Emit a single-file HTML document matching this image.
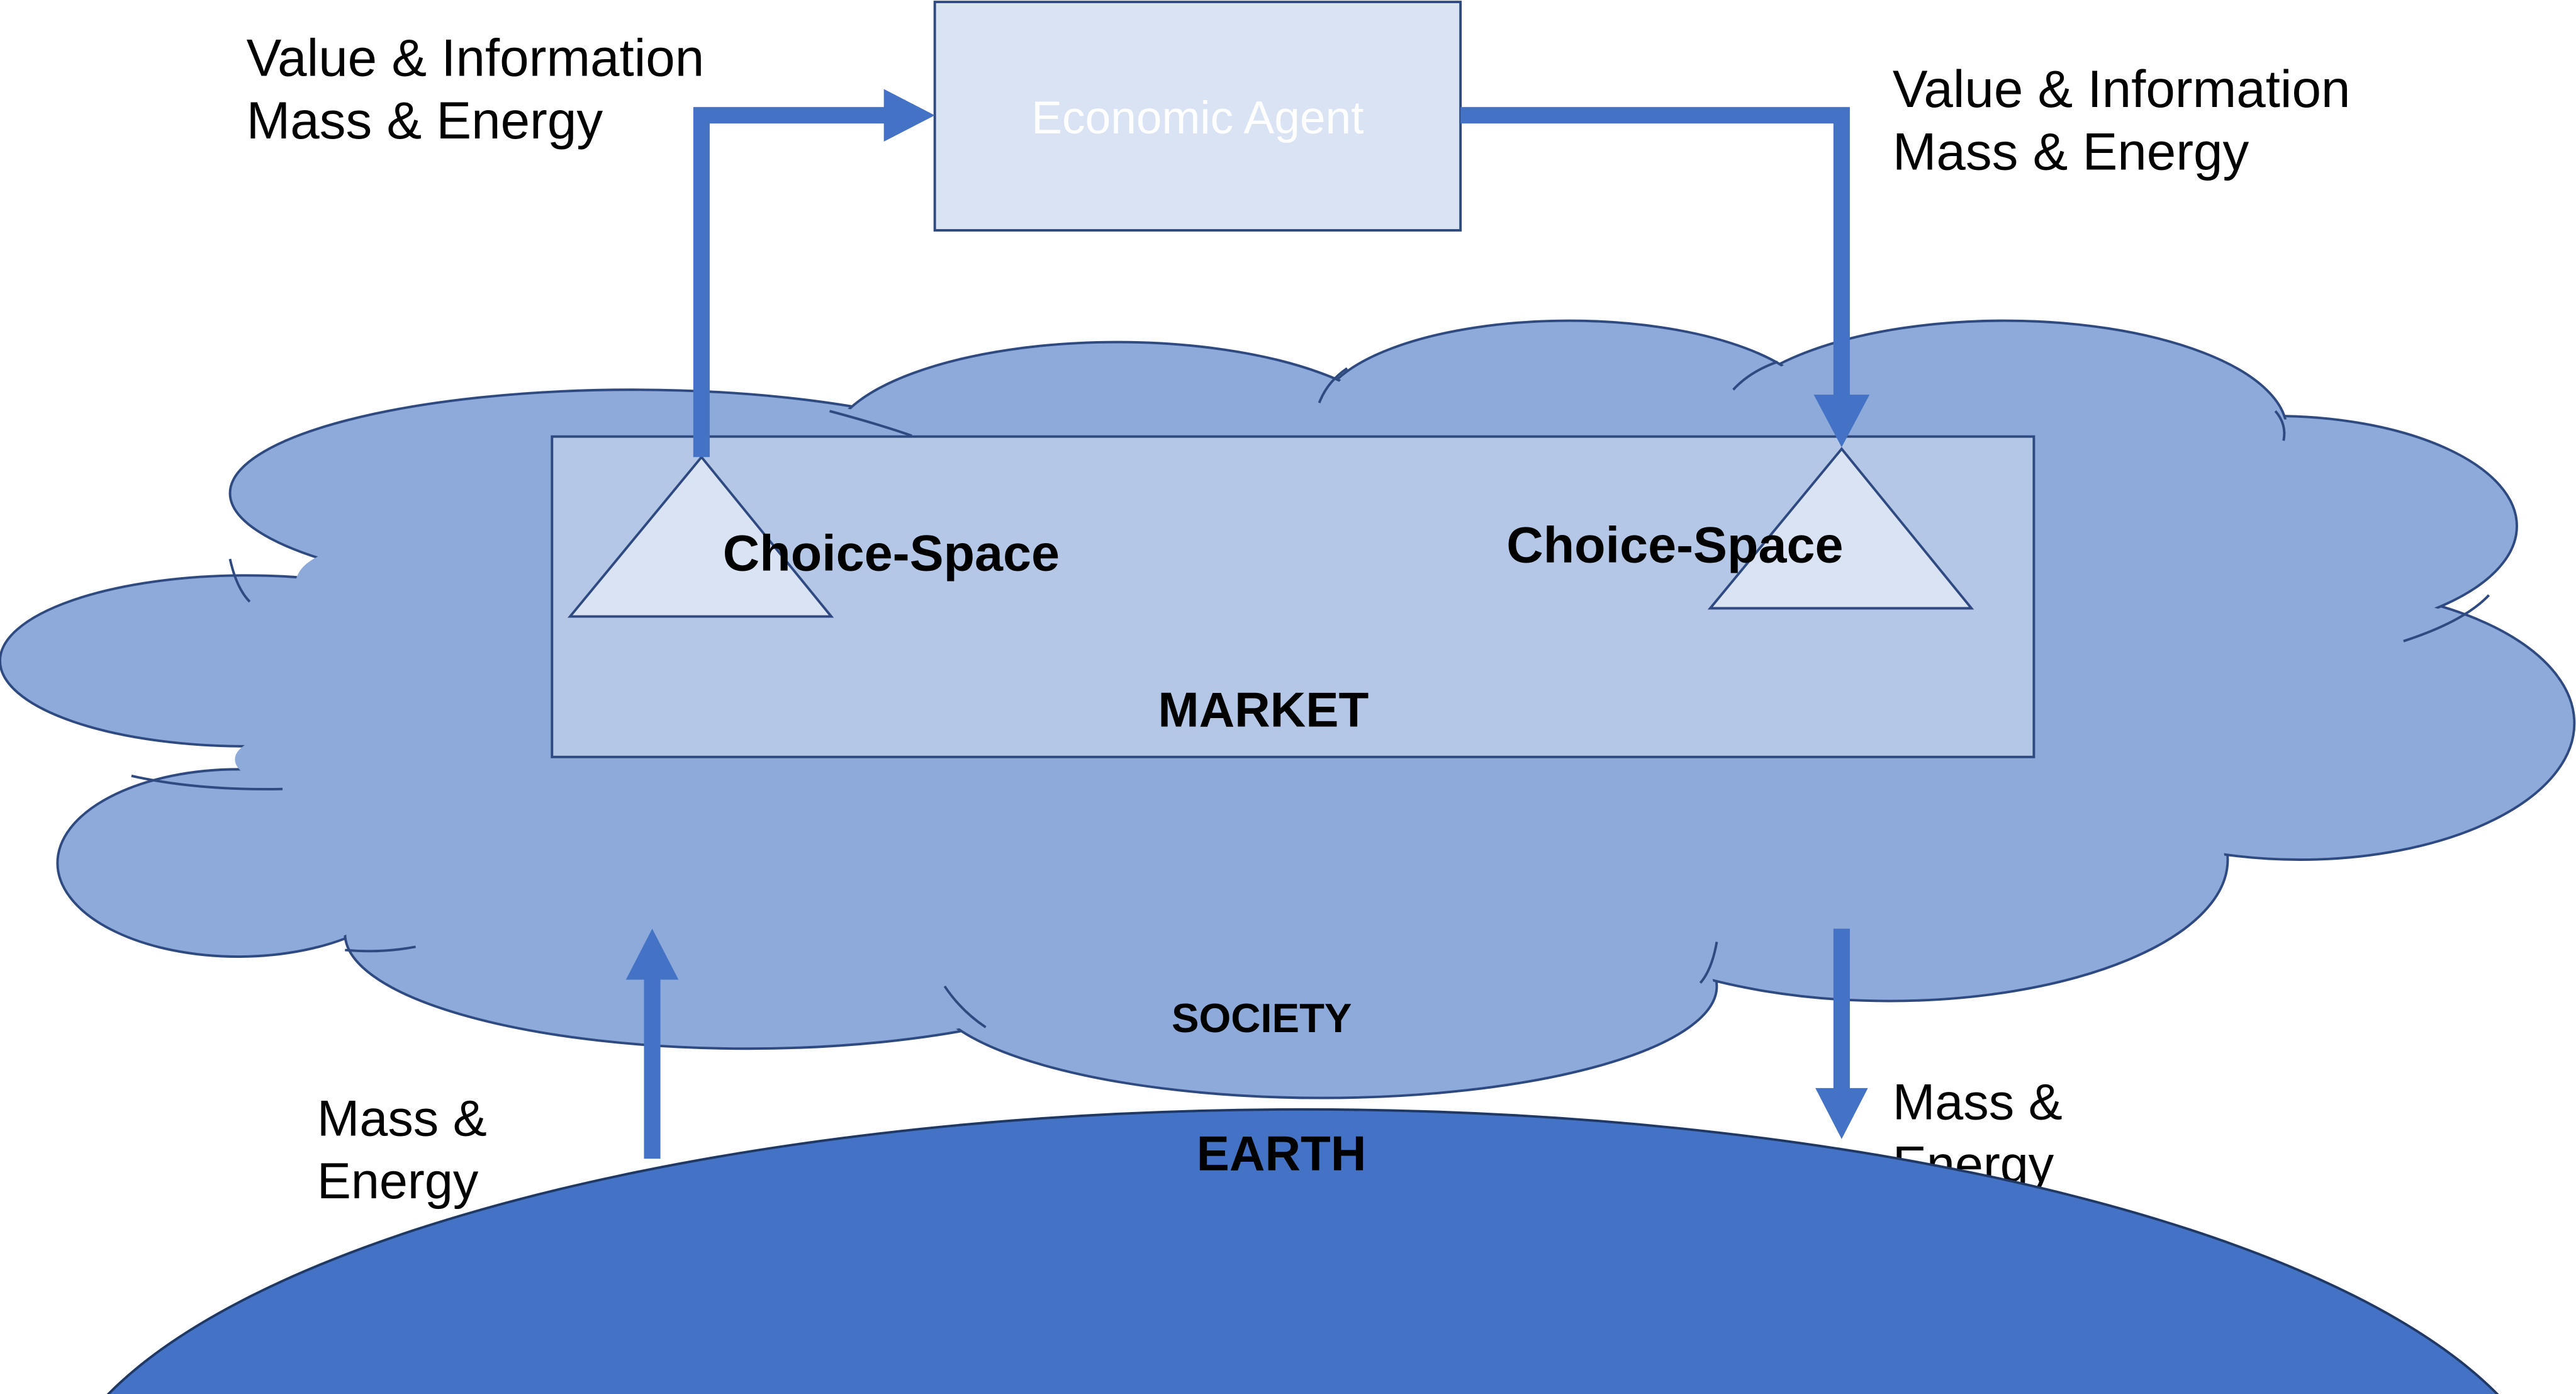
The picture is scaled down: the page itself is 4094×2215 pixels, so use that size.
<!DOCTYPE html>
<html><head><meta charset="utf-8"><style>
html,body{margin:0;padding:0;background:#fff;width:4094px;height:2215px;overflow:hidden;}
svg{display:block;}
text{font-family:"Liberation Sans",sans-serif;}
</style></head><body>
<svg width="4094" height="2215" viewBox="0 0 1568 848" xmlns="http://www.w3.org/2000/svg">
<rect width="1568" height="848" fill="#fff"/>
<g stroke="#2F4A80" stroke-width="1.5" fill="#8EAADB">
<ellipse cx="385" cy="300" rx="245" ry="63"/>
<ellipse cx="150" cy="402" rx="150" ry="52"/>
<ellipse cx="145" cy="525" rx="110" ry="57"/>
<ellipse cx="455" cy="568" rx="245" ry="70"/>
<ellipse cx="805" cy="600" rx="240" ry="68"/>
<ellipse cx="1150" cy="523" rx="206" ry="86"/>
<ellipse cx="1400" cy="440" rx="167" ry="83"/>
<ellipse cx="1385" cy="320" rx="147" ry="67"/>
<ellipse cx="1220" cy="262" rx="172" ry="67"/>
<ellipse cx="955" cy="252" rx="152" ry="57"/>
<ellipse cx="680" cy="272" rx="175" ry="64"/>
</g>
<g fill="#8EAADB">
<ellipse cx="385" cy="300" rx="243" ry="61"/>
<ellipse cx="150" cy="402" rx="148" ry="50"/>
<ellipse cx="145" cy="525" rx="108" ry="55"/>
<ellipse cx="455" cy="568" rx="243" ry="68"/>
<ellipse cx="805" cy="600" rx="238" ry="66"/>
<ellipse cx="1150" cy="523" rx="204" ry="84"/>
<ellipse cx="1400" cy="440" rx="165" ry="81"/>
<ellipse cx="1385" cy="320" rx="145" ry="65"/>
<ellipse cx="1220" cy="262" rx="170" ry="65"/>
<ellipse cx="955" cy="252" rx="150" ry="55"/>
<ellipse cx="680" cy="272" rx="173" ry="62"/>
<ellipse cx="760" cy="430" rx="610" ry="150"/>
<ellipse cx="300" cy="400" rx="110" ry="90"/>
<ellipse cx="322" cy="480" rx="100" ry="70"/>
<ellipse cx="1280" cy="380" rx="130" ry="90"/>
<ellipse cx="220" cy="355" rx="40" ry="22"/>
<ellipse cx="175" cy="462" rx="32" ry="15"/>
</g>
<g stroke="#2F4A80" stroke-width="1.5" fill="none">
<path d="M140,340 Q144,358 152,366"/>
<path d="M80,472 Q120,481 172,480"/>
<path d="M210,578 Q232,580 253,576"/>
<path d="M575,600 Q585,615 600,625"/>
<path d="M1045,573 Q1042,590 1035,598"/>
<path d="M1385,250 Q1392,258 1390,268"/>
<path d="M1463,390 Q1500,378 1515,362"/>
<path d="M803,245 Q808,232 820,224"/>
<path d="M1055,237 Q1065,226 1082,220"/>
<path d="M505,250 Q535,258 555,265"/>
</g>
<rect x="336" y="265.5" width="902" height="195" fill="#B4C7E7" stroke="#2F4A80" stroke-width="1.5"/>
<rect x="569" y="1" width="320" height="139" fill="#DAE3F3" stroke="#2F4A80" stroke-width="1.5"/>
<text x="729" y="81" font-size="28" fill="#fff" text-anchor="middle">Economic Agent</text>
<polygon points="347,375 427,278 506,375" fill="#DAE3F3" stroke="#2F4A80" stroke-width="1.5"/>
<polygon points="1041,370 1121,273 1200,370" fill="#DAE3F3" stroke="#2F4A80" stroke-width="1.5"/>
<g stroke="#4472C4" stroke-width="10" fill="none">
<path d="M427,278 V70 H542"/>
<path d="M889,70 H1121 V242"/>
</g>
<polygon points="538,54 569,70 538,86" fill="#4472C4"/>
<polygon points="1104,240 1121,272 1138,240" fill="#4472C4"/>
<g font-size="32" fill="#000">
<text x="150" y="46">Value &amp; Information</text>
<text x="150" y="84">Mass &amp; Energy</text>
<text x="1152" y="65">Value &amp; Information</text>
<text x="1152" y="103">Mass &amp; Energy</text>
<text x="193" y="691" font-size="31">Mass &amp;</text>
<text x="193" y="729" font-size="31">Energy</text>
<text x="1152" y="681" font-size="31">Mass &amp;</text>
<text x="1152" y="719" font-size="31">Energy</text>
</g>
<g font-size="31" font-weight="bold" fill="#000">
<text x="440" y="347">Choice-Space</text>
<text x="917" y="342">Choice-Space</text>
<text x="769" y="442" text-anchor="middle" font-size="30">MARKET</text>
<text x="768" y="628" text-anchor="middle" font-size="25">SOCIETY</text>
</g>
<ellipse cx="793" cy="925" rx="764" ry="250" fill="#4472C4" stroke="#203864" stroke-width="1.5"/>
<text x="780" y="712" font-size="30" font-weight="bold" text-anchor="middle" fill="#000">EARTH</text>
<g stroke="#4472C4" stroke-width="10">
<line x1="397" y1="705" x2="397" y2="592"/>
<line x1="1121" y1="565" x2="1121" y2="665"/>
</g>
<polygon points="381,596 397,565 413,596" fill="#4472C4"/>
<polygon points="1105,662 1121,693 1137,662" fill="#4472C4"/>
</svg>
</body></html>
